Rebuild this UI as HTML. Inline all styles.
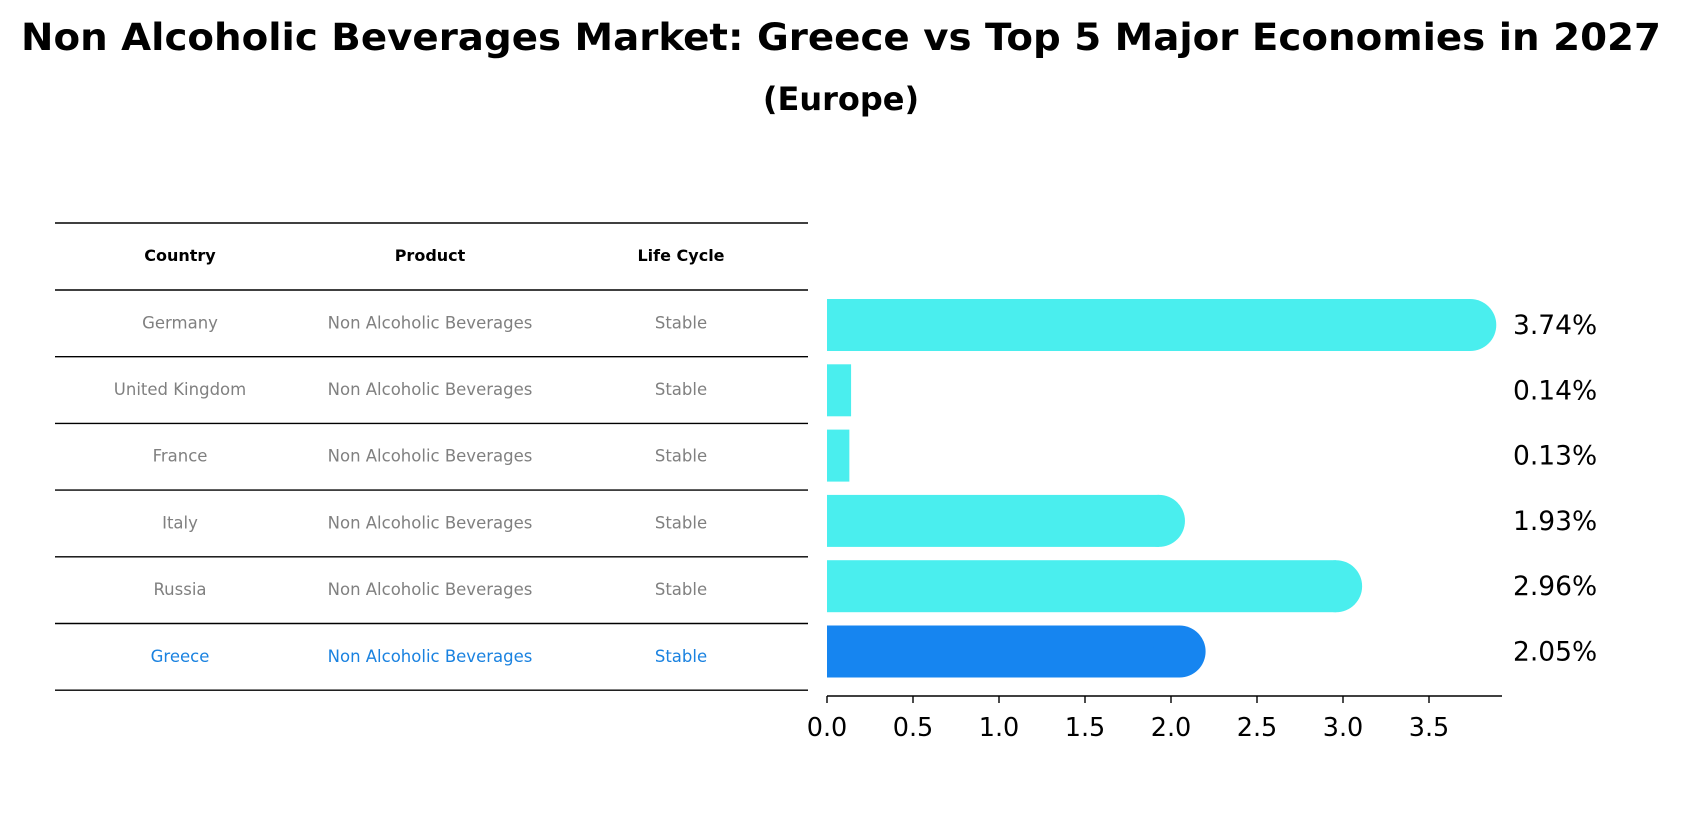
<!DOCTYPE html>
<html><head><meta charset="utf-8"><style>
html,body{margin:0;padding:0;background:#fff;}
svg{display:block;font-family:"DejaVu Sans","Liberation Sans",sans-serif;}
</style></head><body>
<svg id="chart" width="1682" height="823" viewBox="0 0 1682 823" xmlns="http://www.w3.org/2000/svg">
<text x="841" y="50" text-anchor="middle" font-size="37" font-weight="bold" textLength="1640" lengthAdjust="spacingAndGlyphs">Non Alcoholic Beverages Market: Greece vs Top 5 Major Economies in 2027</text>
<text x="841" y="110" text-anchor="middle" font-size="32" font-weight="bold">(Europe)</text>
<g id="table"></g>
<g id="bars"></g>
</svg>
<script>
const countries = ["Germany","United Kingdom","France","Italy","Russia","Greece"];
const products = ["Non Alcoholic Beverages","Non Alcoholic Beverages","Non Alcoholic Beverages","Non Alcoholic Beverages","Non Alcoholic Beverages","Non Alcoholic Beverages"];
const lifeCycles = ["Stable","Stable","Stable","Stable","Stable","Stable"];
const values = [3.74,0.14,0.13,1.93,2.96,2.05];
const valueLabels = ["3.74%","0.14%","0.13%","1.93%","2.96%","2.05%"];
const xTicks = [0.0,0.5,1.0,1.5,2.0,2.5,3.0,3.5];
const xTickLabels = ["0.0","0.5","1.0","1.5","2.0","2.5","3.0","3.5"];
const headers = ["Country","Product","Life Cycle"];

const NS = "http://www.w3.org/2000/svg";
function mk(tag, attrs, parent){const e=document.createElementNS(NS,tag);for(const k in attrs)e.setAttribute(k,attrs[k]);parent.appendChild(e);return e;}
const x0=827, unit=172, axisY=696;
const xScale = v => x0 + v*unit;
const yCenter = i => 325 + i*65.3;

const table=document.getElementById('table');
const colX=[180,430,681];
const lineYs=[223,290];
for(let i=1;i<=countries.length;i++) lineYs.push(290+i*66.7);
lineYs.forEach((y,i)=>{
  const l=mk('line',{x1:55,x2:808,y1:y,y2:y,stroke:'#000','stroke-width':1.4},table);
  
  
});
headers.forEach((h,j)=>{
  const t=mk('text',{x:colX[j],y:261,'text-anchor':'middle','font-size':16,'font-weight':'bold',fill:'#000'},table);
  t.textContent=h;
  
  
});
countries.forEach((c,i)=>{
  const y=290+i*66.7+33.3+5;
  const col=i===countries.length-1?'#1a82e0':'#808080';
  [c,products[i],lifeCycles[i]].forEach((txt,j)=>{
    const t=mk('text',{x:colX[j],y:y,'text-anchor':'middle','font-size':16.5,fill:col},table);
    t.textContent=txt;
    
    
  });
});

const bars=document.getElementById('bars');
values.forEach((v,i)=>{
  const cy=yCenter(i), h=52;
  const col=i===values.length-1?'#1685f0':'#4aeeee';
  const xe=xScale(v);
  const r=mk('rect',{x:x0,y:cy-h/2,width:xe-x0,height:h,fill:col},bars);
  
  
  if(v>1){
    const c=mk('circle',{cx:xe,cy:cy,r:h/2,fill:col},bars);
    
    
  }
  const t=mk('text',{x:1513,y:cy+9,'font-size':26.5,fill:'#000'},bars);
  t.textContent=valueLabels[i];
  
  
});
const ax=mk('line',{x1:x0,x2:1502,y1:axisY,y2:axisY,stroke:'#000','stroke-width':1.6},bars);


xTicks.forEach((v,i)=>{
  const x=xScale(v);
  const tk=mk('line',{x1:x,x2:x,y1:axisY,y2:axisY+7,stroke:'#000','stroke-width':1.4},bars);
  
  
  const t=mk('text',{x:x,y:736,'text-anchor':'middle','font-size':25.5,fill:'#000'},bars);
  t.textContent=xTickLabels[i];
  
  
});
</script>
</body></html>
